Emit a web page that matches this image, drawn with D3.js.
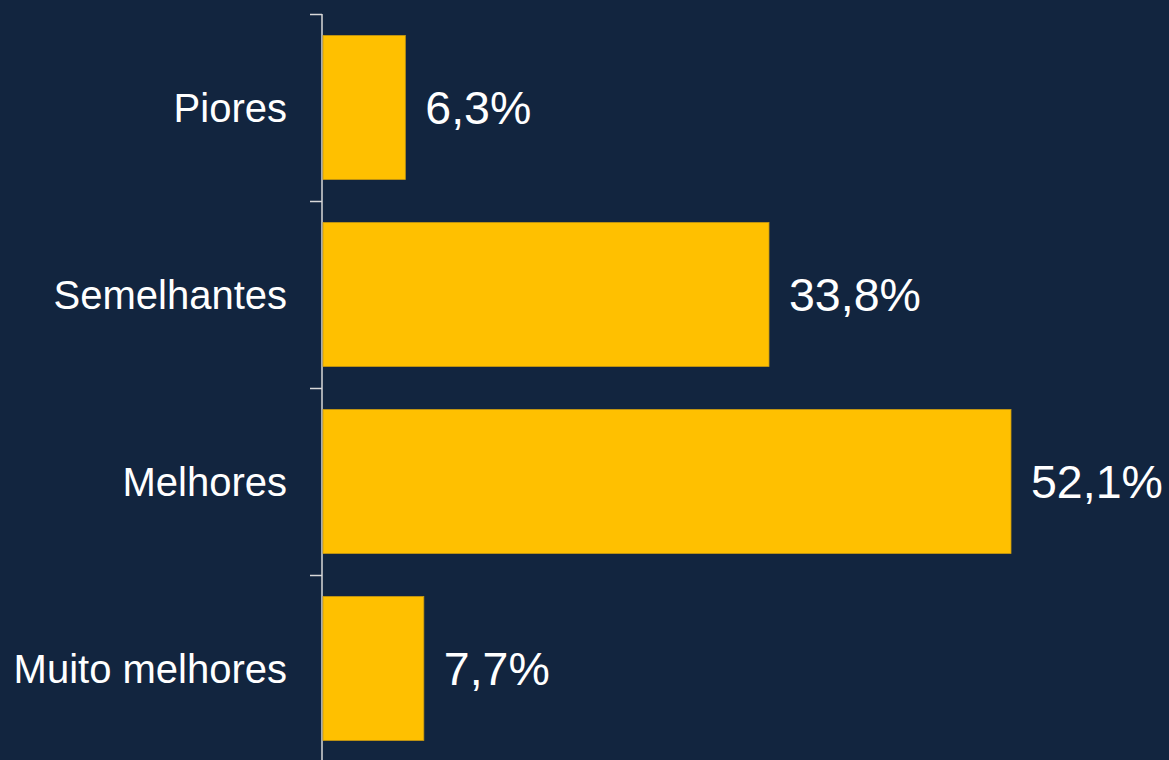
<!DOCTYPE html>
<html>
<head>
<meta charset="utf-8">
<script src="https://cdn.jsdelivr.net/npm/d3@7"></script>
<style>
  body { margin: 0; background: #12253f; }
  svg { display: block; }
</style>
</head>
<body>
<div id="chart"></div>
<script>
const categories = ['Piores', 'Semelhantes', 'Melhores', 'Muito melhores']
const values = [6.3, 33.8, 52.1, 7.7]
const valueLabels = ['6,3%', '33,8%', '52,1%', '7,7%']

const width = 1169
const height = 760
const axisX = 322

const svg = d3.select('#chart')
  .append('svg')
  .attr('width', width)
  .attr('height', height)

svg.append('rect')
  .attr('width', width)
  .attr('height', height)
  .attr('fill', '#12253f')

const x = d3.scaleLinear()
  .domain([0, 52.1])
  .range([axisX, 1011])

const y = d3.scaleBand()
  .domain(categories)
  .range([14, 762])
  .paddingInner(0.23)
  .paddingOuter(0.115)

// tick marks sit between the categories
const yEdges = d3.scaleLinear()
  .domain([0, categories.length])
  .range([14, 762])

const axis = svg.append('g')
  .attr('transform', `translate(${axisX},0)`)
  .call(d3.axisLeft(yEdges)
    .tickValues(d3.range(categories.length))
    .tickSize(12)
    .tickSizeOuter(0)
    .tickFormat(''))

axis.select('.domain')
  .attr('stroke', '#d9d9d9')
  .attr('stroke-width', 1.5)
  .attr('d', `M0,14V${height}`)
axis.selectAll('.tick line')
  .attr('stroke', '#d9d9d9')
  .attr('stroke-width', 1.5)

svg.append('g')
  .selectAll('rect')
  .data(values)
  .join('rect')
  .attr('x', axisX + 1)
  .attr('y', (d, i) => y(categories[i]))
  .attr('width', d => x(d) - axisX - 1)
  .attr('height', y.bandwidth())
  .attr('fill', '#ffc000')
  .attr('stroke', '#c99a10')
  .attr('stroke-width', 0.8)

svg.append('g')
  .selectAll('text')
  .data(categories)
  .join('text')
  .attr('x', 287)
  .attr('y', d => y(d) + y.bandwidth() / 2 + 14)
  .attr('text-anchor', 'end')
  .attr('fill', '#ffffff')
  .style('font-family', 'Liberation Sans, Arial, sans-serif')
  .style('font-size', '40px')
  .text(d => d)

svg.append('g')
  .selectAll('text')
  .data(values)
  .join('text')
  .attr('x', d => x(d) + 20)
  .attr('y', (d, i) => y(categories[i]) + y.bandwidth() / 2 + 16)
  .attr('fill', '#ffffff')
  .style('font-family', 'Liberation Sans, Arial, sans-serif')
  .style('font-size', '46.5px')
  .text((d, i) => valueLabels[i])
</script>
</body>
</html>
